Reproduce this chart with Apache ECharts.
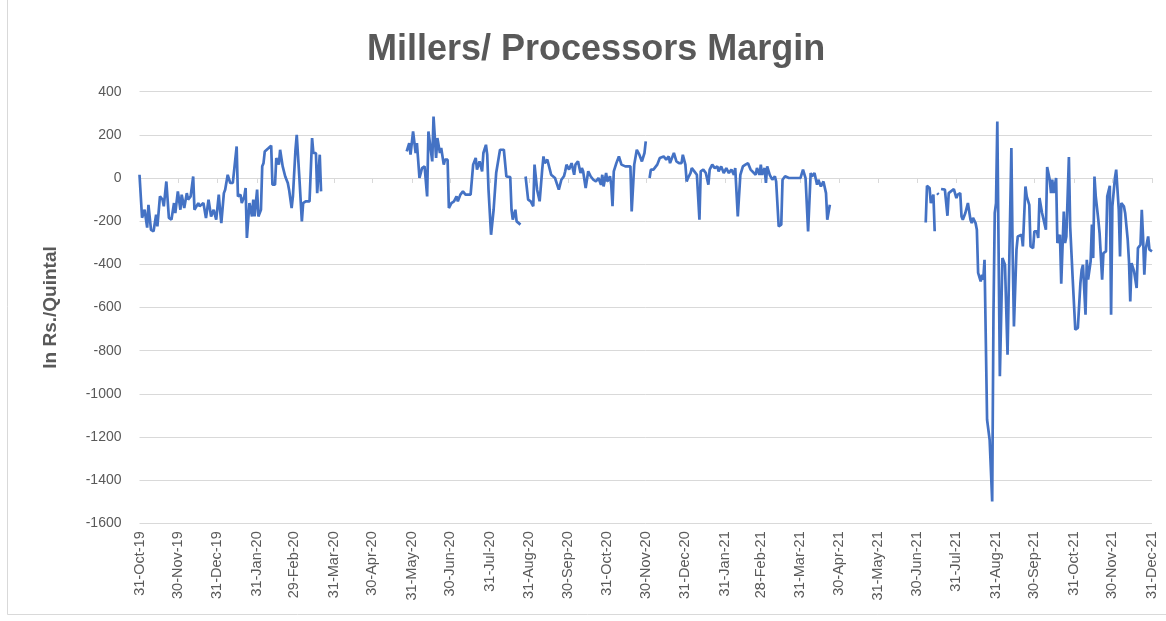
<!DOCTYPE html>
<html>
<head>
<meta charset="utf-8">
<script src="https://cdn.jsdelivr.net/npm/echarts@6/dist/echarts.min.js"></script>
<style>
html,body{margin:0;padding:0;background:#fff;}
#chart{width:1166px;height:621px;}
</style>
</head>
<body>
<div id="chart"></div>
<script>
// ---- Data ----
const chartTitle = 'Millers/ Processors Margin';
const yAxisTitle = 'In Rs./Quintal';

const tickDates = ['2019-10-31','2019-11-30','2019-12-31','2020-01-31','2020-02-29','2020-03-31','2020-04-30','2020-05-31','2020-06-30','2020-07-31','2020-08-31','2020-09-30','2020-10-31','2020-11-30','2020-12-31','2021-01-31','2021-02-28','2021-03-31','2021-04-30','2021-05-31','2021-06-30','2021-07-31','2021-08-31','2021-09-30','2021-10-31','2021-11-30','2021-12-31'];
const tickLabels = ['31-Oct-19','30-Nov-19','31-Dec-19','31-Jan-20','29-Feb-20','31-Mar-20','30-Apr-20','31-May-20','30-Jun-20','31-Jul-20','31-Aug-20','30-Sep-20','31-Oct-20','30-Nov-20','31-Dec-20','31-Jan-21','28-Feb-21','31-Mar-21','30-Apr-21','31-May-21','30-Jun-21','31-Jul-21','31-Aug-21','30-Sep-21','31-Oct-21','30-Nov-21','31-Dec-21'];

const dates = [
'2019-10-31','2019-11-02','2019-11-04','2019-11-06','2019-11-07','2019-11-09','2019-11-11','2019-11-13','2019-11-14','2019-11-16',
'2019-11-18','2019-11-19','2019-11-21','2019-11-23','2019-11-25','2019-11-27','2019-11-28','2019-11-30','2019-12-02','2019-12-03',
'2019-12-05','2019-12-07','2019-12-08','2019-12-10','2019-12-12','2019-12-13','2019-12-16','2019-12-17','2019-12-20','2019-12-22',
'2019-12-24','2019-12-26','2019-12-28','2019-12-30','2020-01-01','2020-01-02','2020-01-03','2020-01-05','2020-01-06','2020-01-08',
'2020-01-10','2020-01-12','2020-01-15','2020-01-16','2020-01-18','2020-01-19','2020-01-21','2020-01-22','2020-01-23','2020-01-25',
'2020-01-27','2020-01-28','2020-01-29','2020-01-31','2020-02-01','2020-02-03','2020-02-04','2020-02-05','2020-02-06','2020-02-09',
'2020-02-11','2020-02-12','2020-02-14','2020-02-15','2020-02-17','2020-02-18','2020-02-20','2020-02-22','2020-02-24','2020-02-25',
'2020-02-27','2020-02-28','2020-03-01','2020-03-02','2020-03-04','2020-03-06','2020-03-07','2020-03-09','2020-03-12','2020-03-14',
'2020-03-15','2020-03-17','2020-03-18','2020-03-20','2020-03-21','2020-03-22',
'2020-05-27','2020-05-29','2020-05-30','2020-06-01','2020-06-03','2020-06-04','2020-06-06','2020-06-08','2020-06-10','2020-06-12',
'2020-06-13','2020-06-16','2020-06-17','2020-06-19','2020-06-20','2020-06-22','2020-06-23','2020-06-25','2020-06-26','2020-06-28',
'2020-06-29','2020-07-01','2020-07-03','2020-07-05','2020-07-06','2020-07-08','2020-07-10','2020-07-12','2020-07-16','2020-07-18',
'2020-07-20','2020-07-21','2020-07-23','2020-07-25','2020-07-26','2020-07-28','2020-07-29','2020-07-30','2020-08-01','2020-08-03',
'2020-08-05','2020-08-08','2020-08-11','2020-08-13','2020-08-16','2020-08-17','2020-08-18','2020-08-20','2020-08-21','2020-08-24',
'2020-08-26',
'2020-08-28','2020-08-30','2020-09-01','2020-09-03','2020-09-04','2020-09-06','2020-09-08','2020-09-10','2020-09-11','2020-09-12',
'2020-09-14','2020-09-16','2020-09-17','2020-09-20','2020-09-23','2020-09-25','2020-09-27','2020-09-28','2020-09-29','2020-10-01',
'2020-10-03','2020-10-05','2020-10-06','2020-10-08','2020-10-10','2020-10-11','2020-10-12','2020-10-14','2020-10-16','2020-10-18',
'2020-10-20','2020-10-22','2020-10-24','2020-10-26','2020-10-27','2020-10-28','2020-10-30','2020-10-31','2020-11-02','2020-11-03',
'2020-11-04','2020-11-05','2020-11-07','2020-11-09','2020-11-11','2020-11-14','2020-11-18','2020-11-19','2020-11-21','2020-11-23',
'2020-11-25','2020-11-27','2020-11-29','2020-11-30','2020-12-01',
'2020-12-03','2020-12-04','2020-12-06','2020-12-09','2020-12-11','2020-12-14','2020-12-16','2020-12-18','2020-12-19','2020-12-22',
'2020-12-24','2020-12-26','2020-12-28','2020-12-29','2020-12-31','2021-01-01','2021-01-02','2021-01-04','2021-01-05','2021-01-07',
'2021-01-09','2021-01-11','2021-01-12','2021-01-14','2021-01-16','2021-01-18','2021-01-19','2021-01-21','2021-01-23','2021-01-25',
'2021-01-26','2021-01-28','2021-01-30','2021-02-01','2021-02-03','2021-02-05','2021-02-07','2021-02-08','2021-02-10','2021-02-12',
'2021-02-14','2021-02-16','2021-02-18','2021-02-20','2021-02-21','2021-02-24','2021-02-25','2021-02-27','2021-02-28','2021-03-01',
'2021-03-03','2021-03-04','2021-03-05','2021-03-07','2021-03-09','2021-03-11','2021-03-12','2021-03-14','2021-03-16','2021-03-17',
'2021-03-19','2021-03-22','2021-03-27','2021-03-31','2021-04-02','2021-04-04','2021-04-06','2021-04-08','2021-04-09','2021-04-11',
'2021-04-13','2021-04-14','2021-04-16','2021-04-18','2021-04-20','2021-04-21','2021-04-23','2021-04-25',
'2021-07-07','2021-07-08','2021-07-10','2021-07-11','2021-07-13','2021-07-14','2021-07-15','2021-07-16','2021-07-17','2021-07-18',
'2021-07-19','2021-07-22','2021-07-24','2021-07-25','2021-07-29','2021-07-31','2021-08-01','2021-08-03','2021-08-04','2021-08-05',
'2021-08-07','2021-08-08','2021-08-09','2021-08-11','2021-08-12','2021-08-13','2021-08-15','2021-08-16','2021-08-17','2021-08-19',
'2021-08-20','2021-08-21','2021-08-22','2021-08-24','2021-08-26','2021-08-28','2021-08-29','2021-08-30','2021-08-31','2021-09-01',
'2021-09-03','2021-09-05','2021-09-07','2021-09-09','2021-09-12','2021-09-13','2021-09-14','2021-09-16','2021-09-17','2021-09-20',
'2021-09-21','2021-09-23','2021-09-24','2021-09-26','2021-09-27','2021-09-29','2021-09-30','2021-10-02','2021-10-03','2021-10-04',
'2021-10-06','2021-10-07','2021-10-09','2021-10-10','2021-10-12','2021-10-13','2021-10-14','2021-10-15','2021-10-17','2021-10-18',
'2021-10-20','2021-10-21','2021-10-23','2021-10-24','2021-10-25','2021-10-27','2021-10-28','2021-10-30','2021-11-01','2021-11-03',
'2021-11-05','2021-11-06','2021-11-07','2021-11-09','2021-11-10','2021-11-11','2021-11-13','2021-11-14','2021-11-15','2021-11-16',
'2021-11-17','2021-11-19','2021-11-20','2021-11-22','2021-11-23','2021-11-25','2021-11-26','2021-11-28','2021-11-29','2021-11-30',
'2021-12-02','2021-12-03','2021-12-05','2021-12-06','2021-12-07','2021-12-09','2021-12-10','2021-12-12','2021-12-13','2021-12-14',
'2021-12-15','2021-12-17','2021-12-19','2021-12-20','2021-12-22','2021-12-23','2021-12-24','2021-12-25','2021-12-26','2021-12-28',
'2021-12-29','2021-12-31'
];

const margin = [
15,-184,-147,-230,-124,-240,-247,-170,-224,-85,
-100,-131,-16,-185,-193,-116,-162,-62,-147,-77,
-139,-70,-100,-85,7,-147,-116,-131,-116,-185,
-100,-178,-147,-193,-77,-147,-209,-70,-54,15,
-23,-23,146,-85,-77,-116,-85,-46,-278,-116,
-178,-100,-178,-54,-178,-147,54,69,123,139,
150,-31,-31,93,62,131,54,7,-23,-54,
-139,-85,131,200,7,-201,-116,-108,-108,185,
116,116,-70,108,-62,null,
123,162,108,216,116,162,0,46,54,-85,
216,77,285,93,185,116,139,62,85,85,
-139,-116,-108,-85,-108,-77,-62,-77,-77,62,
93,39,77,31,116,154,108,-54,-263,-147,
23,131,131,7,4,-147,-193,-147,-201,-216,
null,
7,-100,-108,-131,62,-54,-108,39,100,69,
85,39,15,0,-54,-8,8,31,62,39,
69,15,62,77,23,46,31,-46,31,7,
-8,-16,0,-31,15,-39,23,-16,8,-31,
-131,31,69,100,62,54,54,-155,62,131,
108,77,116,170,null,
0,39,39,62,93,100,85,100,69,116,
77,69,69,108,62,-16,0,23,46,31,
15,-193,31,39,23,-31,39,62,46,54,
31,54,23,46,23,39,15,46,-178,15,
54,62,69,39,31,15,46,15,62,15,
46,-23,54,15,-8,8,-16,-224,-216,-8,
8,0,0,0,39,0,-247,23,8,23,
-31,-8,-39,-16,-70,-193,-124,null,
-206,-36,-46,-116,-77,-247,null,-70,-77,null,
-51,-54,-175,-70,-51,-93,-77,-70,-178,-193,
-162,-155,-116,-193,-209,-185,-209,-240,-440,-479,
-448,-471,-379,-1120,-1213,-1499,-626,-162,-116,262,
-919,-371,-402,-819,139,-348,-688,-332,-271,-263,
-317,-39,-85,-124,-317,-325,-247,-247,-278,-93,
-162,-154,-240,51,-8,-70,-8,-70,0,-301,
-263,-490,-155,-301,-271,97,-224,-471,-703,-695,
-487,-425,-402,-633,-379,-471,-386,-216,-371,7,
-85,-193,-255,-471,-348,-340,-85,-36,-633,-131,
0,39,-147,-363,-116,-131,-162,-286,-386,-572,
-394,-433,-510,-325,-309,-147,-271,-448,-332,-271,
-332,-340
];

// ---- Build ----
function ts(s){ const p = s.split('-').map(Number); return Date.UTC(p[0], p[1]-1, p[2]); }
const tickTs = tickDates.map(ts);
const seriesData = dates.map((d,i) => [ts(d), margin[i]]);
function fmtTick(v){
  let best = 0, bd = Infinity;
  for (let i = 0; i < tickTs.length; i++){ const dd = Math.abs(tickTs[i]-v); if (dd < bd){ bd = dd; best = i; } }
  return tickLabels[best];
}

const textColor = '#595959';
const gridColor = '#d9d9d9';
const fontFam = '"Liberation Sans", Arial, sans-serif';
const xMin = tickTs[0], xMax = tickTs[tickTs.length-1];

const chart = echarts.init(document.getElementById('chart'), null, {renderer:'canvas'});
chart.setOption({
  animation:false,
  backgroundColor:'#ffffff',
  title:{
    text: chartTitle, left:362, top:27,
    textStyle:{color:textColor, fontSize:36, fontWeight:'bold', fontFamily:fontFam}
  },
  grid:{left:139.5, right:14, top:91.7, bottom:97.7, containLabel:false},
  xAxis:[{
    type:'value', min:xMin, max:xMax, scale:true,
    position:'bottom',
    axisLine:{show:false, onZero:false},
    axisTick:{show:false},
    splitLine:{show:false},
    axisLabel:{
      customValues: tickTs, rotate:90, margin:8, color:textColor, fontSize:14.5, fontFamily:fontFam,
      formatter: fmtTick, hideOverlap:false, showMinLabel:true, showMaxLabel:true
    }
  },{
    type:'value', min:xMin, max:xMax, scale:true,
    position:'top',
    axisLine:{show:true, onZero:true, lineStyle:{color:gridColor, width:1}},
    axisTick:{show:true, inside:true, length:5, customValues: tickTs, lineStyle:{color:gridColor}},
    axisLabel:{show:false},
    splitLine:{show:false}
  }],
  yAxis:{
    type:'value', min:-1600, max:400, interval:200,
    name: yAxisTitle, nameLocation:'middle', nameGap:79, nameRotate:90,
    nameTextStyle:{color:textColor, fontSize:19, fontWeight:'bold', fontFamily:fontFam},
    axisLine:{show:false}, axisTick:{show:false},
    axisLabel:{color:textColor, fontSize:14, margin:18, fontFamily:fontFam, formatter: v => String(v)},
    splitLine:{show:true, lineStyle:{color:gridColor, width:1}}
  },
  graphic:[{
    type:'rect', shape:{x:7.5, y:-5, width:1200, height:619.5}, silent:true,
    style:{fill:'none', stroke:gridColor, lineWidth:1}
  }],
  series:[{
    type:'line', xAxisIndex:0, data: seriesData, showSymbol:false, connectNulls:false,
    lineStyle:{color:'#4472C4', width:2.7}, itemStyle:{color:'#4472C4'}, z:5
  }]
});
</script>
</body>
</html>
